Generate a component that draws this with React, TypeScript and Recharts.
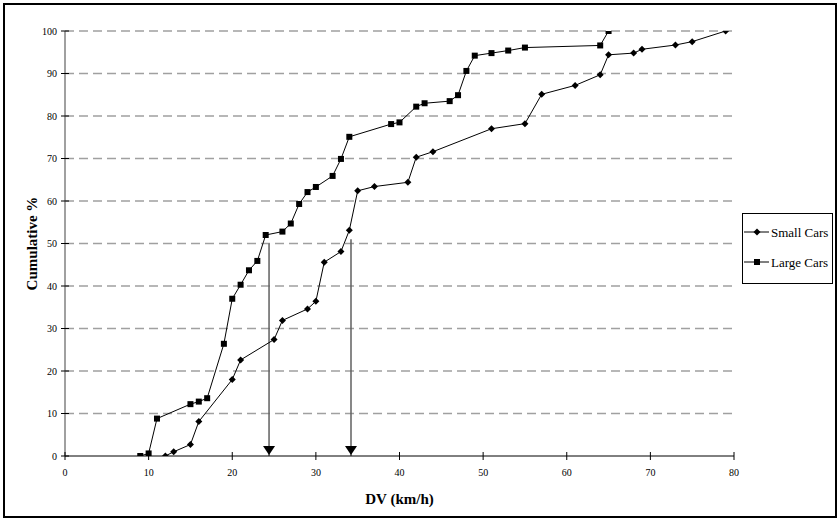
import React from 'react';
import {
  ComposedChart,
  Scatter,
  XAxis,
  YAxis,
  CartesianGrid,
  ReferenceLine,
  ReferenceDot,
  Legend,
  Label,
} from 'recharts';

// ---- Data ----
const smallCarsDV = [12, 13, 15, 16, 20, 21, 25, 26, 29, 30, 31, 33, 34, 35, 37, 41, 42, 44, 51, 55, 57, 61, 64, 65, 68, 69, 73, 75, 79];
const smallCarsPct = [0, 1.0, 2.7, 8.1, 18.0, 22.6, 27.4, 31.9, 34.6, 36.4, 45.6, 48.1, 53.1, 62.4, 63.4, 64.4, 70.3, 71.6, 77.0, 78.2, 85.1, 87.2, 89.7, 94.4, 94.8, 95.7, 96.7, 97.5, 100];

const largeCarsDV = [9, 10, 11, 15, 16, 17, 19, 20, 21, 22, 23, 24, 26, 27, 28, 29, 30, 32, 33, 34, 39, 40, 42, 43, 46, 47, 48, 49, 51, 53, 55, 64, 65];
const largeCarsPct = [0, 0.6, 8.8, 12.2, 12.8, 13.6, 26.4, 37.0, 40.3, 43.7, 45.9, 52.0, 52.8, 54.7, 59.3, 62.1, 63.3, 65.9, 69.9, 75.1, 78.1, 78.5, 82.2, 83.0, 83.5, 84.9, 90.6, 94.2, 94.8, 95.4, 96.1, 96.6, 100];

const arrowDV = [24.4, 34.2];
const arrowTopPct = [50, 51];

const xTicks = [0, 10, 20, 30, 40, 50, 60, 70, 80];
const yTicks = [0, 10, 20, 30, 40, 50, 60, 70, 80, 90, 100];

const seriesNames = ['Small Cars', 'Large Cars'];
const xTitle = 'DV (km/h)';
const yTitle = 'Cumulative %';

const smallData = smallCarsDV.map((x, i) => ({ x, y: smallCarsPct[i] }));
const largeData = largeCarsDV.map((x, i) => ({ x, y: largeCarsPct[i] }));

const FONT = '"Liberation Serif", "Times New Roman", serif';

const Diamond = (props: any) => {
  const { cx, cy } = props;
  if (cx == null || cy == null) return null;
  const r = 3.5;
  return <path d={`M${cx},${cy - r}L${cx + r},${cy}L${cx},${cy + r}L${cx - r},${cy}Z`} fill="#000" />;
};

const Square = (props: any) => {
  const { cx, cy } = props;
  if (cx == null || cy == null) return null;
  return <rect x={cx - 3} y={cy - 3} width={6} height={6} fill="#000" />;
};

const ArrowHead = (props: any) => {
  const { cx, cy } = props;
  if (cx == null || cy == null) return null;
  return <path d={`M${cx - 6},${cy - 10}L${cx + 6},${cy - 10}L${cx},${cy - 1}Z`} fill="#000" />;
};

const YTick = (props: any) => {
  const { x, y, payload } = props;
  return (
    <g>
      <line x1={x + 4} x2={x + 12} y1={y} y2={y} stroke="#000" strokeWidth={1} />
      <text x={x} y={y} dy={3.5} textAnchor="end" fontSize={10} fontFamily={FONT} fill="#000">
        {payload.value}
      </text>
    </g>
  );
};

const XTick = (props: any) => {
  const { x, y, payload } = props;
  return (
    <g>
      <line x1={x} x2={x} y1={y - 12} y2={y - 4} stroke="#000" strokeWidth={1} />
      <text x={x} y={y + 12} textAnchor="middle" fontSize={10} fontFamily={FONT} fill="#000">
        {payload.value}
      </text>
    </g>
  );
};

const XTitle = (props: any) => {
  const { viewBox } = props;
  const cx = viewBox.x + viewBox.width / 2;
  return (
    <text x={cx} y={viewBox.y + 48} textAnchor="middle" fontSize={15} fontWeight="bold" fontFamily={FONT} fill="#000">
      {xTitle}
    </text>
  );
};

const YTitle = (props: any) => {
  const { viewBox } = props;
  const cx = viewBox.x + 32;
  const cy = viewBox.y + viewBox.height / 2;
  return (
    <text
      x={cx}
      y={cy}
      transform={`rotate(-90, ${cx}, ${cy})`}
      textAnchor="middle"
      dominantBaseline="central"
      fontSize={15}
      fontWeight="bold"
      fontFamily={FONT}
      fill="#000"
    >
      {yTitle}
    </text>
  );
};

const LegendBox = () => (
  <svg width={91} height={71} style={{ display: 'block' }}>
    <rect x={0.5} y={0.5} width={90} height={70} fill="#fff" stroke="#000" strokeWidth={1} />
    <line x1={2} x2={27} y1={19} y2={19} stroke="#000" strokeWidth={1} />
    <Diamond cx={15} cy={19} />
    <text x={29} y={19} dy={4.5} fontSize={13} fontFamily={FONT} fill="#000">
      {seriesNames[0]}
    </text>
    <line x1={2} x2={27} y1={49} y2={49} stroke="#000" strokeWidth={1} />
    <Square cx={15} cy={49} />
    <text x={29} y={49} dy={4.5} fontSize={13} fontFamily={FONT} fill="#000">
      {seriesNames[1]}
    </text>
  </svg>
);

export default function App() {
  return (
    <div style={{ position: 'absolute', left: 0, top: 0, width: 839, height: 519, background: '#fff' }}>
      <ComposedChart
        width={839}
        height={519}
        margin={{ top: 31, right: 105, bottom: 0, left: 0 }}
      >
        <CartesianGrid
          horizontal
          vertical={false}
          stroke="#a0a0a0"
          strokeWidth={1.5}
          strokeDasharray="9 5"
          horizontalValues={yTicks.filter((t) => t > 0)}
        />
        <XAxis
          type="number"
          dataKey="x"
          domain={[0, 80]}
          ticks={xTicks}
          interval={0}
          height={63}
          axisLine={{ stroke: '#000', strokeWidth: 1 }}
          tickLine={false}
          tick={<XTick />}
          allowDataOverflow
        >
          <Label content={<XTitle />} />
        </XAxis>
        <YAxis
          type="number"
          dataKey="y"
          domain={[0, 100]}
          ticks={yTicks}
          interval={0}
          width={65}
          axisLine={{ stroke: '#808080', strokeWidth: 1.5 }}
          tickLine={false}
          tick={<YTick />}
          allowDataOverflow
        >
          <Label content={<YTitle />} />
        </YAxis>
        {arrowDV.map((x, i) => (
          <ReferenceLine
            key={`al${i}`}
            segment={[
              { x, y: arrowTopPct[i] },
              { x, y: 0 },
            ]}
            stroke="#606060"
            strokeWidth={1.5}
          />
        ))}
        {arrowDV.map((x, i) => (
          <ReferenceDot key={`ah${i}`} x={x} y={0} r={0} shape={<ArrowHead />} />
        ))}
        <Scatter
          name={seriesNames[0]}
          data={smallData}
          line={{ stroke: '#000', strokeWidth: 1 }}
          shape={<Diamond />}
          isAnimationActive={false}
        />
        <Scatter
          name={seriesNames[1]}
          data={largeData}
          line={{ stroke: '#000', strokeWidth: 1 }}
          shape={<Square />}
          isAnimationActive={false}
        />
        <Legend
          layout="horizontal"
          verticalAlign="middle"
          align="center"
          wrapperStyle={{ left: 742, top: 213, width: 91, height: 71 }}
          content={<LegendBox />}
        />
      </ComposedChart>
      <div
        style={{
          position: 'absolute',
          left: 3,
          top: 3,
          width: 830,
          height: 511,
          border: '2px solid #000',
          pointerEvents: 'none',
        }}
      />
    </div>
  );
}
